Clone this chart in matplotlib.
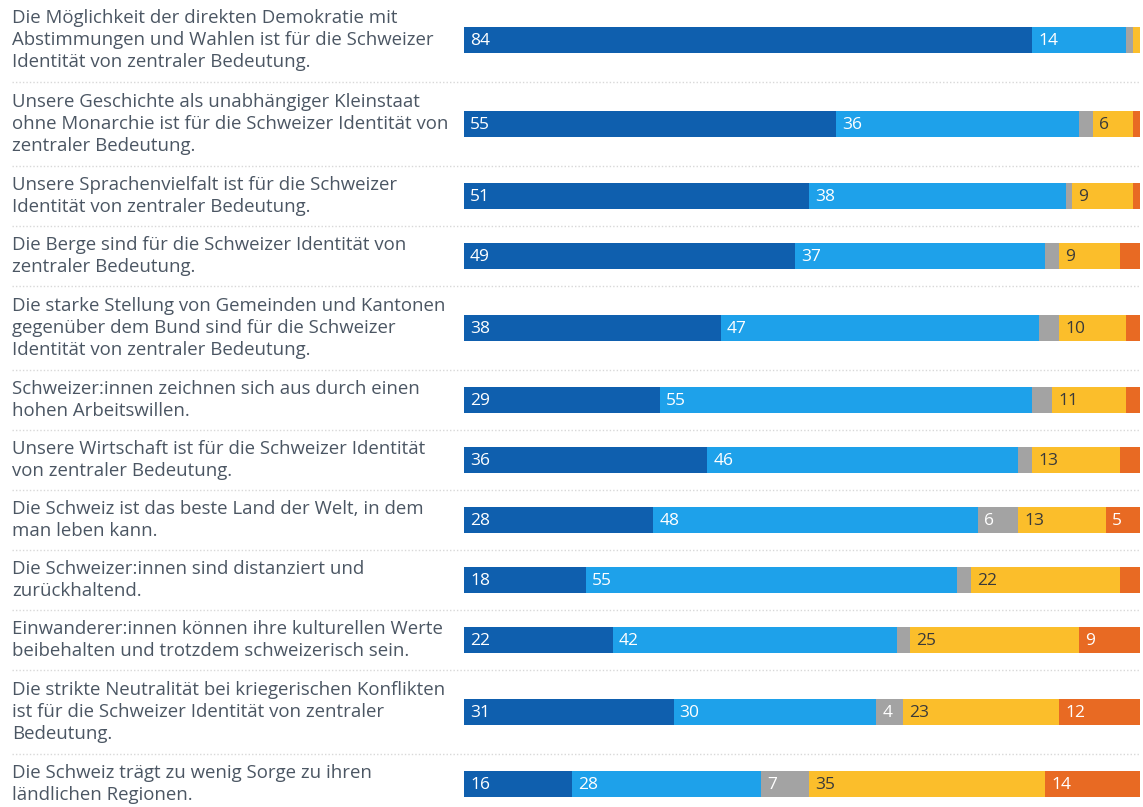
import matplotlib
matplotlib.use("Agg")
import matplotlib.pyplot as plt
import numpy as np

categories = [
    "Die Möglichkeit der direkten Demokratie mit\nAbstimmungen und Wahlen ist für die Schweizer\nIdentität von zentraler Bedeutung.",
    "Unsere Geschichte als unabhängiger Kleinstaat\nohne Monarchie ist für die Schweizer Identität von\nzentraler Bedeutung.",
    "Unsere Sprachenvielfalt ist für die Schweizer\nIdentität von zentraler Bedeutung.",
    "Die Berge sind für die Schweizer Identität von\nzentraler Bedeutung.",
    "Die starke Stellung von Gemeinden und Kantonen\ngegenüber dem Bund sind für die Schweizer\nIdentität von zentraler Bedeutung.",
    "Schweizer:innen zeichnen sich aus durch einen\nhohen Arbeitswillen.",
    "Unsere Wirtschaft ist für die Schweizer Identität\nvon zentraler Bedeutung.",
    "Die Schweiz ist das beste Land der Welt, in dem\nman leben kann.",
    "Die Schweizer:innen sind distanziert und\nzurückhaltend.",
    "Einwanderer:innen können ihre kulturellen Werte\nbeibehalten und trotzdem schweizerisch sein.",
    "Die strikte Neutralität bei kriegerischen Konflikten\nist für die Schweizer Identität von zentraler\nBedeutung.",
    "Die Schweiz trägt zu wenig Sorge zu ihren\nländlichen Regionen.",
]

voll_einverstanden = [84, 55, 51, 49, 38, 29, 36, 28, 18, 22, 31, 16]
eher_einverstanden = [14, 36, 38, 37, 47, 55, 46, 48, 55, 42, 30, 28]
weiss_nicht = [1, 2, 1, 2, 3, 3, 2, 6, 2, 2, 4, 7]
eher_nicht = [1, 6, 9, 9, 10, 11, 13, 13, 22, 25, 23, 35]
gar_nicht = [0, 1, 1, 3, 2, 2, 3, 5, 3, 9, 12, 14]

series = [voll_einverstanden, eher_einverstanden, weiss_nicht, eher_nicht, gar_nicht]
colors = ["#0f5fae", "#1ea1ea", "#a3a3a3", "#fbbe2b", "#e86a23"]
label_colors = ["white", "white", "white", "#3a3a3a", "white"]

W, H = 1143, 807
fig = plt.figure(figsize=(W / 100, H / 100), dpi=100)
plt.rcParams['font.family'] = ['Open Sans', 'DejaVu Sans']

ax_t = fig.add_axes([0, 0, 1, 1])
ax_t.set_xlim(0, W)
ax_t.set_ylim(H, 0)
ax_t.axis("off")

bar_left, bar_w = 464, 676
ax_b = fig.add_axes([bar_left / W, 0, bar_w / W, 1])
ax_b.set_xlim(0, 100)
ax_b.set_ylim(H, 0)
ax_b.axis("off")

line_h = 24
pad = 12
top = -2
centers = []
bounds = [top]
for c in categories:
    n = c.count("\n") + 1
    h = n * line_h + pad
    centers.append(top + h / 2)
    top += h
    bounds.append(top)

text_color = "#4b5663"
for c, y in zip(categories, centers):
    ax_t.text(12, y, c, ha="left", va="center", fontsize=13.4, color=text_color,
              linespacing=1.26)

for b in bounds[1:-1]:
    ax_t.plot([12, 1140], [b, b], color="#d8d8d8", lw=1, ls=(0, (1, 1.5)))

left = np.zeros(len(categories))
for vals, col, lc in zip(series, colors, label_colors):
    vals = np.array(vals, dtype=float)
    ax_b.barh(centers, vals, left=left, height=26, color=col, edgecolor="none")
    for y, l, v in zip(centers, left, vals):
        if v >= 4:
            ax_b.text(l + 0.9, y + 1, f"{int(v)}", ha="left", va="center",
                      fontsize=12.5, color=lc)
    left += vals

fig.savefig("out.png", dpi=100)
